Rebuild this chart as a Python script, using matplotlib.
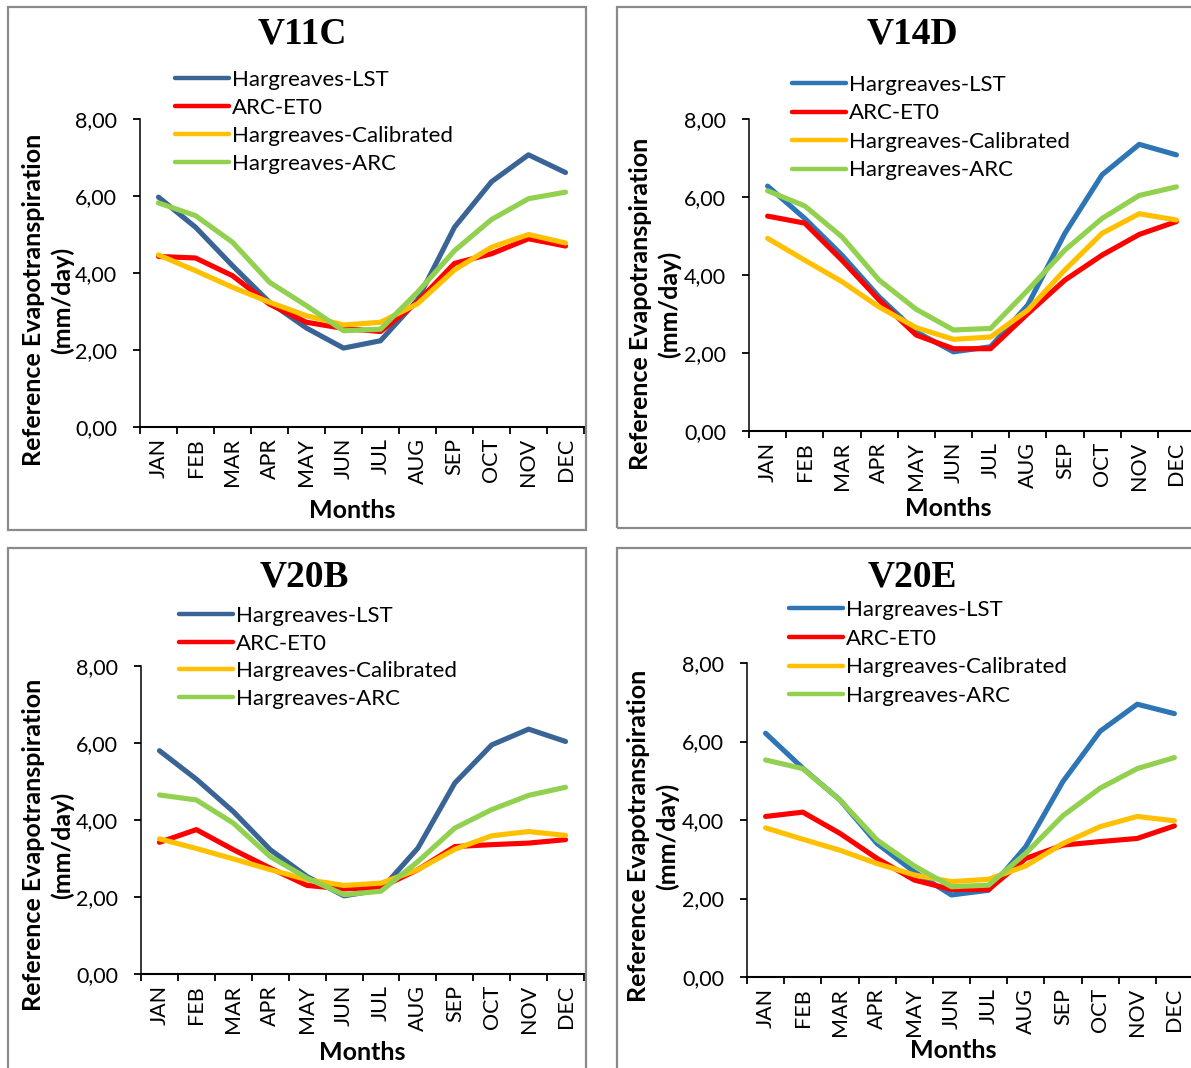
import matplotlib
matplotlib.use("Agg")
import matplotlib.pyplot as plt
from matplotlib.patches import Rectangle
from matplotlib.ticker import FixedLocator, NullFormatter

W, H = 1191, 1068

months = ["JAN", "FEB", "MAR", "APR", "MAY", "JUN", "JUL", "AUG", "SEP", "OCT", "NOV", "DEC"]
series_names = ["Hargreaves-LST", "ARC-ET0", "Hargreaves-Calibrated", "Hargreaves-ARC"]
ytick_values = [0, 2, 4, 6, 8]
ytick_labels = ["0,00", "2,00", "4,00", "6,00", "8,00"]
panel_titles = ["V11C", "V14D", "V20B", "V20E"]

v11c_lst = [5.97, 5.19, 4.19, 3.24, 2.57, 2.05, 2.24, 3.30, 5.19, 6.37, 7.07, 6.61]
v11c_et0 = [4.43, 4.39, 3.93, 3.19, 2.72, 2.56, 2.48, 3.25, 4.25, 4.50, 4.89, 4.70]
v11c_cal = [4.47, 4.06, 3.63, 3.24, 2.89, 2.65, 2.72, 3.20, 4.08, 4.67, 5.00, 4.78]
v11c_arc = [5.82, 5.49, 4.80, 3.76, 3.15, 2.50, 2.54, 3.50, 4.58, 5.39, 5.93, 6.10]

v14d_lst = [6.28, 5.45, 4.51, 3.44, 2.54, 2.03, 2.16, 3.23, 5.07, 6.57, 7.35, 7.08]
v14d_et0 = [5.51, 5.33, 4.38, 3.36, 2.46, 2.11, 2.11, 3.01, 3.87, 4.51, 5.04, 5.37]
v14d_cal = [4.94, 4.38, 3.83, 3.18, 2.65, 2.35, 2.41, 3.10, 4.13, 5.07, 5.57, 5.41]
v14d_arc = [6.16, 5.77, 4.98, 3.87, 3.12, 2.59, 2.63, 3.61, 4.64, 5.45, 6.04, 6.26]

v20b_lst = [5.80, 5.06, 4.22, 3.23, 2.53, 2.03, 2.19, 3.27, 4.96, 5.95, 6.36, 6.04]
v20b_et0 = [3.42, 3.75, 3.23, 2.75, 2.30, 2.21, 2.25, 2.71, 3.31, 3.36, 3.40, 3.49]
v20b_cal = [3.51, 3.26, 2.99, 2.71, 2.45, 2.30, 2.36, 2.71, 3.24, 3.59, 3.70, 3.60]
v20b_arc = [4.65, 4.52, 3.92, 3.05, 2.49, 2.06, 2.15, 2.92, 3.79, 4.27, 4.64, 4.85]

v20e_lst = [6.21, 5.32, 4.51, 3.40, 2.68, 2.09, 2.21, 3.32, 4.98, 6.26, 6.95, 6.71]
v20e_et0 = [4.09, 4.20, 3.66, 3.02, 2.47, 2.23, 2.23, 3.02, 3.36, 3.45, 3.53, 3.85]
v20e_cal = [3.80, 3.51, 3.23, 2.89, 2.60, 2.43, 2.49, 2.83, 3.40, 3.83, 4.09, 3.98]
v20e_arc = [5.53, 5.31, 4.51, 3.49, 2.83, 2.30, 2.34, 3.15, 4.11, 4.81, 5.31, 5.59]

panel_data = [
    [v11c_lst, v11c_et0, v11c_cal, v11c_arc],
    [v14d_lst, v14d_et0, v14d_cal, v14d_arc],
    [v20b_lst, v20b_et0, v20b_cal, v20b_arc],
    [v20e_lst, v20e_et0, v20e_cal, v20e_arc],
]

dark_blue = "#3A6396"
light_blue = "#2E75B6"
other_colors = ["#FF0000", "#FFC000", "#92D050"]
panel_colors = [
    [dark_blue] + other_colors,
    [light_blue] + other_colors,
    [dark_blue] + other_colors,
    [light_blue] + other_colors,
]

# layout in pixels
borders = [(8, 7, 586, 530), (617, 7, 1197, 528), (8, 548, 586, 1072), (617, 548, 1197, 1072)]
axes_px = [(140, 119, 584, 427), (749, 119, 1195, 431), (141, 666, 584, 974), (747, 663, 1193, 977)]
title_px = [(302, 34), (912, 34), (304, 577), (912, 577)]
legend_px = [(175, 70), (792, 75), (179, 606), (789, 600)]
legend_spacing = [0.36, 0.38, 0.34, 0.39]
ylabel_px = [(48, 300), (655, 304), (48, 845), (653, 836)]
xlabel_px = [(352, 511), (948, 508), (362, 1053), (953, 1051)]

sans = ["Lato", "DejaVu Sans"]
serif = ["Liberation Serif", "DejaVu Serif"]
plt.rcParams["font.family"] = sans

fig = plt.figure(figsize=(W / 100, H / 100), dpi=100)

def fx(x):
    return x / W

def fy(y):
    return 1 - y / H

for i in range(4):
    x0, y0, x1, y1 = borders[i]
    fig.patches.append(Rectangle((fx(x0), fy(y1)), fx(x1 - x0), (y1 - y0) / H,
                                 transform=fig.transFigure, fill=False,
                                 edgecolor="#8A8A8A", linewidth=1.6, zorder=0))
    l, t, r, b = axes_px[i]
    ax = fig.add_axes([fx(l), fy(b), fx(r - l), (b - t) / H])
    ax.set_facecolor("none")
    xs = list(range(len(months)))
    for name, vals, col in zip(series_names, panel_data[i], panel_colors[i]):
        ax.plot(xs, vals, color=col, lw=3.7, label=name,
                solid_joinstyle="round", solid_capstyle="round")
    ax.set_xlim(-0.5, len(months) - 0.5)
    ax.set_ylim(0, 8)
    ax.set_yticks(ytick_values)
    ax.set_yticklabels(ytick_labels, fontsize=15.5)
    ax.xaxis.set_major_locator(FixedLocator([k - 0.5 for k in range(len(months) + 1)]))
    ax.xaxis.set_major_formatter(NullFormatter())
    ax.set_xticks(xs, minor=True)
    ax.set_xticklabels(months, minor=True, rotation=90, fontsize=15.5)
    ax.tick_params(axis="x", which="major", direction="out", length=5, width=1.3)
    ax.tick_params(axis="x", which="minor", length=0, pad=8)
    ax.tick_params(axis="y", direction="out", length=5, width=1.3, pad=11.5)
    for s in ["top", "right"]:
        ax.spines[s].set_visible(False)
    ax.spines["bottom"].set_linewidth(1.5)
    ax.spines["left"].set_linewidth(1.1)

    lx, ly = legend_px[i]
    leg = ax.legend(loc="upper left", bbox_to_anchor=(fx(lx), fy(ly)),
                    bbox_transform=fig.transFigure, frameon=False,
                    fontsize=16, handlelength=2.45, handletextpad=0.12,
                    labelspacing=legend_spacing[i], borderpad=0, borderaxespad=0)
    for h in leg.legend_handles:
        h.set_linewidth(3.2)

    tx, ty = title_px[i]
    fig.text(fx(tx), fy(ty), panel_titles[i], family=serif, fontweight="bold",
             fontsize=27, ha="center", va="center")
    yx, yy = ylabel_px[i]
    fig.text(fx(yx), fy(yy), "Reference Evapotranspiration\n(mm/day)", rotation=90,
             fontweight="bold", fontsize=18, ha="center", va="center",
             multialignment="center", linespacing=1.25)
    xx, xy = xlabel_px[i]
    fig.text(fx(xx), fy(xy), "Months", fontweight="bold", fontsize=18,
             ha="center", va="center")

fig.savefig("out.png", dpi=100)
